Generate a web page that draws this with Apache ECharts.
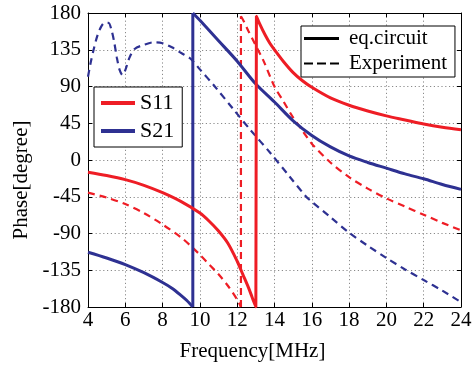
<!DOCTYPE html>
<html>
<head>
<meta charset="utf-8">
<script src="https://cdn.jsdelivr.net/npm/echarts@6/dist/echarts.min.js"></script>
<style>
  html, body { margin: 0; padding: 0; background: #fff; }
  #chart { width: 476px; height: 367px; }
</style>
</head>
<body>
<div id="chart"></div>
<script>
// Frequency axis (MHz) and phase axis (degree)
const freqMin = 4, freqMax = 24, freqStep = 2;
const phaseMin = -180, phaseMax = 180, phaseStep = 45;

// [frequency MHz, phase degree] — equivalent-circuit model
const s11Circuit = [
  [4, -15], [5, -19], [6, -24], [7, -31], [8, -40], [9, -51], [10, -65],
  [10.5, -75], [11, -87], [11.5, -102], [12, -124], [12.3, -140], [12.6, -156],
  [12.8, -168], [13.0, -180], [13.03, 176], [13.2, 167], [13.5, 153],
  [13.75, 143], [14, 135], [14.5, 120], [15, 107], [15.5, 97], [16, 89],
  [17, 76], [18, 67], [19, 60], [20, 54], [21, 49], [22, 44], [23, 40], [24, 37]
];
const s21Circuit = [
  [4, -113], [5, -120], [6, -128], [7, -138], [8, -150], [8.5, -157], [9, -166],
  [9.3, -172], [9.62, -180], [9.62, 180], [10, 171], [11, 146], [12, 121],
  [13, 93], [14, 71], [15, 48], [16, 30], [17, 16], [18, 5], [19, -3],
  [20, -10], [21, -17], [22, -23], [23, -30], [24, -36]
];

// [frequency MHz, phase degree] — measured
const s11Experiment = [
  [4, -40], [5, -46], [6, -54], [7, -65], [8, -79], [9, -95], [9.5, -105],
  [10, -116], [10.5, -128], [11, -140], [11.5, -154], [12, -171], [12.2, -180],
  [12.2, 176], [12.35, 170], [12.6, 158], [13, 140], [13.4, 122], [14, 90],
  [14.5, 71], [15, 52], [15.5, 36], [16, 20], [17, -3], [18, -21], [19, -35],
  [20, -47], [21, -57], [22, -67], [23, -77], [24, -86]
];
const s21Experiment = [
  [4, 102], [4.15, 120], [4.3, 135], [4.5, 152], [4.7, 163], [4.9, 168],
  [5.1, 168], [5.25, 160], [5.4, 145], [5.55, 125], [5.7, 110], [5.85, 104],
  [6.0, 110], [6.2, 124], [6.5, 136], [7, 141], [7.5, 144], [8, 143],
  [8.5, 138], [9, 131], [9.5, 124], [10, 111], [10.8, 90], [11.8, 62],
  [12.7, 37], [13.8, 8], [14.8, -20], [15.7, -45], [16, -51], [17, -70],
  [18, -89], [19, -105], [20, -120], [21, -134], [22, -147], [23, -160], [24, -174]
];

const RED = '#ee1d25';
const BLUE = '#2e3192';
const FONT = "'Liberation Serif', 'Times New Roman', serif";
const DASHED_ICON = 'path://M0,0H9V2H0Z M13,0H22V2H13Z M26,0H35V2H26Z';

const gridLine = { show: true, lineStyle: { color: '#8a8a8a', width: 1, type: [1.2, 2.6] } };
const frame = { show: true, onZero: false, lineStyle: { color: '#000', width: 1 } };
const ticks = { show: true, inside: true, length: 4, lineStyle: { color: '#000' } };

// Split a trace at its phase wraps (two points sharing one frequency):
// each continuous branch is drawn smooth, each wrap as a straight vertical.
function traceSeries(name, data, color, dashed) {
  const lineStyle = dashed ? { color, width: 2.2, type: [7, 5] } : { color, width: 3 };
  const base = {
    name, type: 'line', symbol: 'none', clip: true,
    itemStyle: { color }, lineStyle, emphasis: { disabled: true }, silent: true
  };
  const out = [];
  let branch = [data[0]];
  for (let i = 1; i < data.length; i++) {
    const prev = data[i - 1], cur = data[i];
    if (cur[0] === prev[0]) {
      out.push(Object.assign({}, base, { data: branch, smooth: 0.3 }));
      out.push(Object.assign({}, base, { data: [prev, cur], smooth: false }));
      branch = [cur];
    } else {
      branch.push(cur);
    }
  }
  out.push(Object.assign({}, base, { data: branch, smooth: 0.3 }));
  return out;
}

const chart = echarts.init(document.getElementById('chart'), null, { renderer: 'canvas' });
chart.setOption({
  animation: false,
  backgroundColor: '#fff',
  textStyle: { fontFamily: FONT, color: '#000' },
  grid: { left: 88, right: 15, top: 13, bottom: 60 },
  xAxis: [
    {
      type: 'value', min: freqMin, max: freqMax, interval: freqStep, position: 'bottom',
      name: 'Frequency[MHz]', nameLocation: 'middle', nameGap: 34,
      nameTextStyle: { fontFamily: FONT, fontSize: 21, color: '#000', padding: [0, 44, 0, 0] },
      axisLine: frame, axisTick: ticks, splitLine: gridLine,
      axisLabel: { fontFamily: FONT, fontSize: 21, color: '#000', margin: 3 }
    },
    {
      type: 'value', min: freqMin, max: freqMax, interval: freqStep, position: 'top',
      axisLine: frame, axisTick: ticks, splitLine: { show: false }, axisLabel: { show: false }
    }
  ],
  yAxis: [
    {
      type: 'value', min: phaseMin, max: phaseMax, interval: phaseStep, position: 'left',
      name: 'Phase[degree]', nameLocation: 'middle', nameGap: 54,
      nameTextStyle: { fontFamily: FONT, fontSize: 21, color: '#000', padding: [0, 40, 0, 0] },
      axisLine: frame, axisTick: ticks, splitLine: gridLine,
      axisLabel: { fontFamily: FONT, fontSize: 21, color: '#000', margin: 7 }
    },
    {
      type: 'value', min: phaseMin, max: phaseMax, interval: phaseStep, position: 'right',
      axisLine: frame, axisTick: ticks, splitLine: { show: false }, axisLabel: { show: false }
    }
  ],
  legend: [
    {
      data: [{ name: 'S11', icon: 'rect' }, { name: 'S21', icon: 'rect' }],
      orient: 'vertical', left: 94, top: 87, selectedMode: false,
      itemWidth: 34, itemHeight: 4, itemGap: 6,
      padding: [5, 8, 5, 7],
      borderColor: '#000', borderWidth: 1, borderRadius: 0, backgroundColor: '#fff',
      textStyle: { fontFamily: FONT, fontSize: 22, color: '#000', lineHeight: 22 }
    },
    {
      data: [{ name: 'eq.circuit', icon: 'rect' }, { name: 'Experiment', icon: DASHED_ICON }],
      orient: 'vertical', left: 301, top: 26, selectedMode: false,
      itemWidth: 35, itemHeight: 3, itemGap: 4,
      padding: [2, 8, 3, 3],
      borderColor: '#000', borderWidth: 1, borderRadius: 0, backgroundColor: '#fff',
      textStyle: { fontFamily: FONT, fontSize: 21, color: '#000', lineHeight: 20, padding: [0, 0, 0, 5] }
    }
  ],
  series: [
    ...traceSeries('S11 experiment', s11Experiment, RED, true),
    ...traceSeries('S21 experiment', s21Experiment, BLUE, true),
    ...traceSeries('S21', s21Circuit, BLUE, false),
    ...traceSeries('S11', s11Circuit, RED, false),
    // legend-only entries for the line style key
    { name: 'eq.circuit', type: 'line', data: [], itemStyle: { color: '#000' }, lineStyle: { color: '#000' } },
    { name: 'Experiment', type: 'line', data: [], itemStyle: { color: '#000' }, lineStyle: { color: '#000', type: 'dashed' } }
  ]
});
</script>
</body>
</html>
